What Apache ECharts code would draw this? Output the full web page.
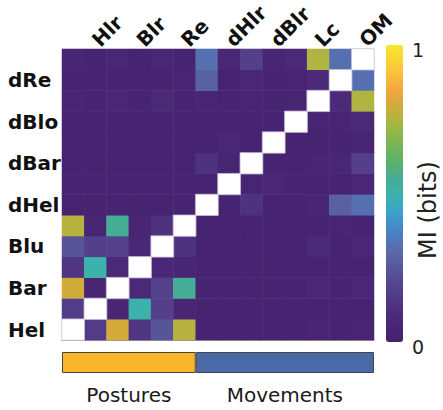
<!DOCTYPE html>
<html>
<head>
<meta charset="utf-8">
<script src="https://cdn.jsdelivr.net/npm/echarts@6/dist/echarts.min.js"></script>
<style>
html,body{margin:0;padding:0;background:#fff;}
#chart{width:443px;height:410px;}
</style>
</head>
<body>
<div id="chart"></div>
<script>
// Categories (axis order: index 0 at left / bottom)
const postureCats = ['Hel','Hlr','Bar','Blr','Blu','Re'];
const movementCats = ['dHel','dHlr','dBar','dBlr','dBlo','Lc','dRe','OM'];
const categories = postureCats.concat(movementCats);
const groupNames = ['Postures','Movements'];

// Lower-triangle mutual information values (bits): row vs. earlier categories
const miHlr  = [0.16];
const miBar  = [0.80, 0.05];
const miBlr  = [0.13, 0.50, 0.07];
const miBlu  = [0.24, 0.17, 0.18, 0.06];
const miRe   = [0.76, 0.05, 0.55, 0.05, 0.12];
const miDHel = [0.03, 0.03, 0.03, 0.03, 0.03, 0.03];
const miDHlr = [0.03, 0.03, 0.03, 0.03, 0.03, 0.03, 0.03];
const miDBar = [0.03, 0.03, 0.03, 0.03, 0.03, 0.03, 0.12, 0.04];
const miDBlr = [0.03, 0.03, 0.03, 0.03, 0.03, 0.03, 0.03, 0.06, 0.03];
const miDBlo = [0.03, 0.03, 0.03, 0.03, 0.03, 0.03, 0.03, 0.03, 0.03, 0.03];
const miLc   = [0.05, 0.03, 0.06, 0.03, 0.07, 0.03, 0.05, 0.03, 0.04, 0.03, 0.04];
const miDRe  = [0.03, 0.03, 0.03, 0.03, 0.03, 0.04, 0.28, 0.03, 0.06, 0.03, 0.04, 0.08];
const miOM   = [0.05, 0.03, 0.06, 0.03, 0.06, 0.03, 0.32, 0.06, 0.17, 0.05, 0.07, 0.75, 0.32];
const lowerRows = [[], miHlr, miBar, miBlr, miBlu, miRe, miDHel, miDHlr, miDBar, miDBlr, miDBlo, miLc, miDRe, miOM];

// Colour scale
const scaleMin = 0, scaleMax = 1;
const scaleLabels = ['1', '0'];
const scaleTitle = 'MI (bits)';
const colorStops = ['#46206c','#482674','#4c2d7c','#513a86','#55468f','#585799','#5a68a8','#5079bc','#4290cc','#3aa6c8',
  '#3bb3aa','#45ad94','#58b070','#70b45c','#8cb84c','#b0b440','#d2ab3a','#f4a640','#fbbd3c','#fbd434','#f5e82a'];

const cellData = [];
const diagData = [];
for (let i = 0; i < categories.length; i++) {
  for (let j = 0; j < categories.length; j++) {
    if (i === j) { diagData.push([j, i, 1]); continue; }
    const v = i > j ? lowerRows[i][j] : lowerRows[j][i];
    cellData.push([j, i, v]);
  }
}

const labelFont = {fontFamily: 'DejaVu Sans', fontWeight: 'bold', fontSize: 20, color: '#111'};

const chart = echarts.init(document.getElementById('chart'), null, {renderer: 'svg'});
chart.setOption({
  animation: false,
  backgroundColor: '#fff',
  grid: [
    {left: 62, top: 46, width: 312, height: 294},
    {left: 62, top: 352, width: 312, height: 21}
  ],
  xAxis: [
    {gridIndex: 0, type: 'category', data: categories, position: 'top',
     axisLine: {show: false}, axisTick: {show: false}, splitLine: {show: false},
     axisLabel: Object.assign({interval: (idx) => idx % 2 === 1, rotate: -45, margin: 6}, labelFont)},
    {gridIndex: 0, type: 'category', data: categories, position: 'bottom',
     axisLine: {show: true, lineStyle: {color: '#9a9a9a', width: 1}},
     axisTick: {show: true, inside: true, length: 3, alignWithLabel: true, lineStyle: {color: '#9a9a9a'}},
     axisLabel: {show: false}, splitLine: {show: false}},
    {gridIndex: 1, type: 'value', min: 0, max: categories.length, show: false}
  ],
  yAxis: [
    {gridIndex: 0, type: 'category', data: categories,
     axisLine: {show: true, lineStyle: {color: '#b0b0b0', width: 1}},
     axisTick: {show: false}, splitLine: {show: false},
     axisLabel: Object.assign({interval: (idx) => idx % 2 === 0, align: 'left', margin: 54}, labelFont)},
    {gridIndex: 1, type: 'category', data: ['group'], show: false}
  ],
  visualMap: {
    type: 'continuous', seriesIndex: 0, min: scaleMin, max: scaleMax,
    calculable: false, orient: 'vertical', left: 386, top: 45,
    itemWidth: 17, itemHeight: 297, padding: 0, showLabel: false, text: null,
    inRange: {color: colorStops}
  },
  series: [
    {type: 'heatmap', xAxisIndex: 0, yAxisIndex: 0, data: cellData, itemStyle: {borderWidth: 0}},
    {type: 'heatmap', xAxisIndex: 0, yAxisIndex: 0, data: diagData,
     itemStyle: {color: '#ffffff', borderColor: '#c4bccf', borderWidth: 0.8}},
    {type: 'bar', name: groupNames[0], stack: 'g', xAxisIndex: 2, yAxisIndex: 1, barWidth: '100%',
     data: [postureCats.length], itemStyle: {color: '#f9b62b', borderColor: '#444', borderWidth: 1},
     label: {show: true, position: 'bottom', distance: 12, formatter: groupNames[0],
             fontFamily: 'DejaVu Sans', fontSize: 20, color: '#1a1a1a'}},
    {type: 'bar', name: groupNames[1], stack: 'g', xAxisIndex: 2, yAxisIndex: 1, barWidth: '100%',
     data: [movementCats.length], itemStyle: {color: '#4a69a7', borderColor: '#444', borderWidth: 1},
     label: {show: true, position: 'bottom', distance: 12, formatter: groupNames[1],
             fontFamily: 'DejaVu Sans', fontSize: 20, color: '#1a1a1a'}}
  ],
  graphic: [
    {type: 'text', left: 412, top: 40, style: {text: scaleLabels[0], fontFamily: 'DejaVu Sans', fontSize: 19, fill: '#222'}},
    {type: 'text', left: 412, top: 337, style: {text: scaleLabels[1], fontFamily: 'DejaVu Sans', fontSize: 19, fill: '#222'}},
    {type: 'text', x: 428, y: 210, rotation: Math.PI / 2,
     style: {text: scaleTitle, fontFamily: 'DejaVu Sans', fontSize: 24, fill: '#222', align: 'center', verticalAlign: 'middle'}}
  ]
});
</script>
</body>
</html>
